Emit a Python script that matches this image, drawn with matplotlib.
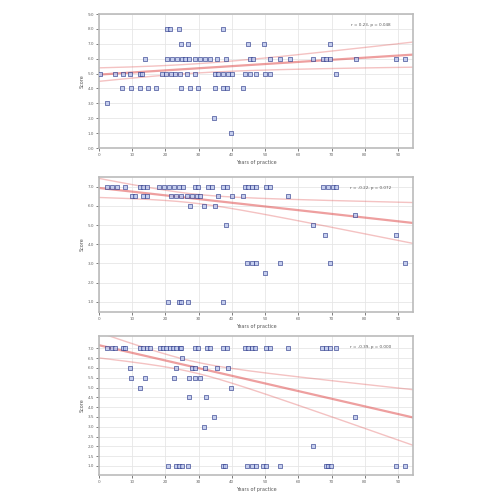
import math
import numpy as np
import matplotlib
matplotlib.use("Agg")
import matplotlib.pyplot as plt

# panel 1: score levels and the x positions of the points at each level
p1_levels = [8, 7, 6, 5, 4, 3, 2, 1]
p1_x = [
    [20.5, 21.5, 24, 37.4],
    [24.8, 26.9, 44.7, 49.7, 69.4],
    [13.8, 20.5, 22, 23.5, 25, 26, 27, 28.8, 30.4, 32, 33.5, 35.4, 38.2,
     45.4, 46.2, 51.4, 54.4, 57.4, 64.4, 67.4, 68.4, 69.4, 77.3, 89.3, 92],
    [0.3, 4.8, 7.3, 9.3, 12.3, 13, 19.1, 20.1, 21.8, 22.8, 24.3, 26.4, 28.9,
     34.9, 35.9, 37.4, 38.9, 39.9, 43.9, 45.4, 47.4, 49.9, 51.4, 71.4],
    [6.8, 9.5, 12.3, 14.8, 17.3, 24.8, 27.4, 29.9, 34.9, 37.4, 38.4, 43.4],
    [2.3],
    [34.6],
    [39.6],
]

# panel 2
p2_levels = [7, 6.5, 6, 5.5, 5, 4.5, 3, 2.5, 1]
p2_x = [
    [2.3, 3.8, 5.3, 7.8, 12.3, 13.3, 14.3, 18, 19.5, 21, 22.5, 24, 25.3,
     28.9, 29.9, 32.9, 33.9, 37.4, 38.4, 43.9, 44.9, 45.9, 47.4, 50.4, 51.4,
     67.4, 68.9, 70.4, 71.4],
    [9.8, 10.8, 13.3, 14.3, 21.8, 23.3, 24.8, 26.4, 27.9, 29.4, 30.4, 35.9,
     39.9, 43.4, 56.9],
    [27.4, 31.6, 34.9],
    [77.0],
    [38.1, 64.4],
    [68.1, 89.5],
    [44.4, 45.9, 47.2, 54.4, 69.4, 92],
    [49.9],
    [20.8, 24, 24.8, 26.9, 37.4],
]

# panel 3
p3_levels = [7, 6.5, 6, 5.5, 5, 4.5, 3.5, 3, 2, 1]
p3_x = [
    [2.3, 3.8, 4.8, 7.3, 7.8, 12.3, 13.3, 14.3, 15.3, 18.3, 19.3, 20.3, 21.3,
     22.3, 23.3, 24.3, 24.8, 28.9, 29.9, 32.4, 33.4, 37.4, 38.4, 43.9, 44.9,
     45.9, 46.9, 50.4, 51.4, 56.9, 67, 68.4, 69.4, 71.4],
    [25.1],
    [9.3, 23.1, 27.9, 28.9, 31.9, 35.4, 38.9],
    [9.5, 13.8, 22.5, 27.2, 28.9, 30.4],
    [12.3, 39.6],
    [27.2, 32.2],
    [34.6, 77.0],
    [31.6],
    [64.4],
    [20.8, 23.3, 24.1, 24.9, 26.9, 37.4, 37.9, 44.4, 45.9, 47.4, 49.4, 50.4,
     54.4, 68.2, 68.9, 69.9, 89.5, 92],
]

# fitted lines: intercept, slope, and the
# confidence band (half width w0 at x0, growing by k per year)
fit_intercept = [4.93, 6.93, 7.16]
fit_slope = [0.0142, -0.0193, -0.039]
band_x0 = 28
band_w0 = [0.31, 0.235, 0.28]
band_k = [0.0118, 0.0156, 0.0209]

x_ticks = list(range(0, 100, 10))
y_ticks = [np.arange(0, 10, 1), np.arange(1, 8, 1), np.arange(1, 7.5, 0.5)]
y_lims = [(0.2, 9.0), (0.47, 7.5), (0.54, 7.63)]
x_label = "Years of practice"
y_label = "Score"

panels = [(p1_levels, p1_x), (p2_levels, p2_x), (p3_levels, p3_x)]
boxes = [
    [0.198, 0.704, 0.628, 0.268],
    [0.198, 0.376, 0.628, 0.270],
    [0.198, 0.050, 0.628, 0.278],
]

fig = plt.figure(figsize=(5, 5), dpi=100)
for i, (levels, xs) in enumerate(panels):
    x = np.concatenate([np.array(v, float) for v in xs])
    y = np.concatenate([np.full(len(v), lv, float) for lv, v in zip(levels, xs)])

    ax = fig.add_axes(boxes[i])
    ax.grid(True, color="#e6e6e6", lw=0.6)
    ax.set_axisbelow(True)

    xx = np.linspace(0, 94.5, 200)
    yy = fit_intercept[i] + fit_slope[i] * xx
    w = np.sqrt(band_w0[i] ** 2 + (band_k[i] * (xx - band_x0)) ** 2)
    ax.plot(xx, yy, color="#e05050", lw=1.6, alpha=0.55)
    ax.plot(xx, yy + w, color="#e05050", lw=1.0, alpha=0.35)
    ax.plot(xx, yy - w, color="#e05050", lw=1.0, alpha=0.35)

    ax.scatter(x, y, marker="s", s=8, facecolor="#b8c4ec",
               edgecolor="#1c2a80", linewidth=0.5, alpha=0.8, zorder=3)

    n = len(x)
    r = np.corrcoef(x, y)[0, 1]
    t = r * math.sqrt((n - 2) / (1 - r * r))
    p = math.erfc(abs(t) / math.sqrt(2))
    ax.text(0.93, 0.92, f"r = {r:.2f}, p = {p:.3f}", transform=ax.transAxes,
            ha="right", va="center", fontsize=3, color="#555555")

    ax.set_xlim(0, 94.5)
    ax.set_ylim(*y_lims[i])
    ax.set_xticks(x_ticks)
    ax.set_yticks(y_ticks[i])
    ax.set_yticklabels([f"{v:.1f}" for v in y_ticks[i]])
    ax.tick_params(labelsize=3, length=2, width=0.6, colors="#666666", pad=1.5)
    for sp in ax.spines.values():
        sp.set_color("#bbbbbb")
        sp.set_linewidth(1.2)
    ax.set_xlabel(x_label, fontsize=3.5, color="#555555", labelpad=2)
    ax.set_ylabel(y_label, fontsize=3.5, color="#555555", labelpad=2)

fig.savefig("out.png", dpi=100)
